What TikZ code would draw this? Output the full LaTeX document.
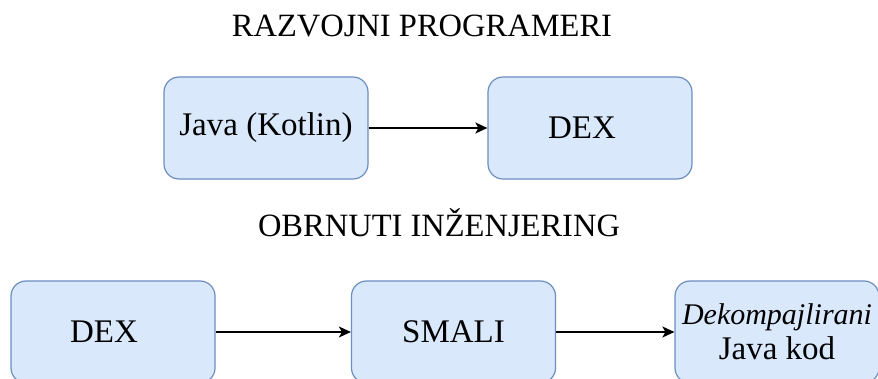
\documentclass[tikz,border=0pt]{standalone}
\usepackage{fontspec}
\setmainfont{Liberation Serif}
\usetikzlibrary{arrows.meta}
\definecolor{boxfill}{HTML}{DAE8FC}
\definecolor{boxdraw}{HTML}{6C8EBF}
\tikzset{
  flowbox/.style={draw=boxdraw, fill=boxfill, line width=1.2pt, rounded corners=15pt,
    minimum width=204pt, minimum height=102pt, inner sep=0pt, align=center,
    font=\fontsize{33}{36}\selectfont},
  titletext/.style={anchor=base, inner sep=0pt, font=\fontsize{32.5}{36}\selectfont},
  flowarrow/.style={line width=1.7pt, -{Stealth[length=12pt,width=11pt,inset=3pt]}}
}
\begin{document}
\begin{tikzpicture}[x=1pt,y=-1pt]
\useasboundingbox (0,0) rectangle (878,379);
\clip (0,0) rectangle (878,379);
\node[titletext] (t1) at (422,37) {RAZVOJNI PROGRAMERI};
\node[titletext] (t2) at (439,237) {OBRNUTI INŽENJERING};
\node[flowbox] (java) at (266,128) {Java (Kotlin)};
\node[flowbox] (dex1) at (590,128) {DEX\hspace*{16pt}};
\node[flowbox] (dex2) at (113,332) {DEX\hspace*{18pt}};
\node[flowbox] (smali) at (453.5,332) {SMALI};
\node[flowbox] (dek) at (777,332) {{\fontsize{30}{32}\selectfont\itshape Dekompajlirani}\\[-1pt]Java kod};
\draw[flowarrow] (java) -- (dex1);
\draw[flowarrow] (dex2) -- (smali);
\draw[flowarrow] (smali) -- (dek);
\end{tikzpicture}
\end{document}
